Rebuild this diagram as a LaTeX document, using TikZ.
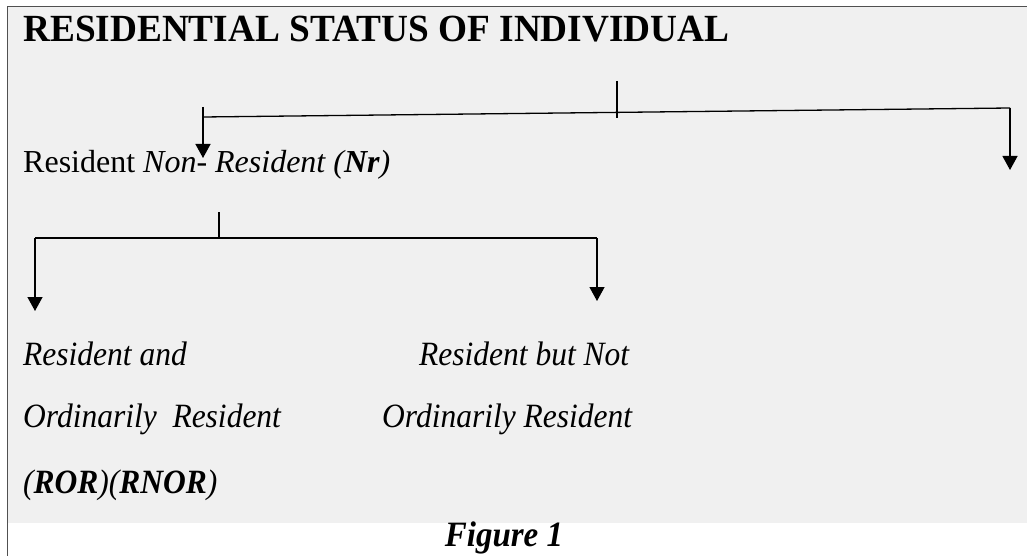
\documentclass[tikz,border=0pt]{standalone}
\usepackage{fontspec}
\usepackage{graphicx}
\setmainfont{Liberation Serif}
\usetikzlibrary{arrows.meta}
\definecolor{panel}{HTML}{F0F0F0}
\definecolor{frame}{HTML}{505050}
\newcommand{\tallit}[1]{\scalebox{1}[1.08]{#1}}
\begin{document}
\begin{tikzpicture}[x=1pt,y=-1pt,
  txt/.style={anchor=base west,inner sep=0pt,font=\fontsize{31.5}{37}\selectfont},
  leaf/.style={txt,font=\fontsize{31.5}{37}\selectfont\itshape},
  conn/.style={line width=1.3pt,black},
  arr/.style={conn,-{Triangle[length=14pt,width=15pt]}}]
\useasboundingbox (0,0) rectangle (1027,556);
\fill[white] (0,0) rectangle (1027,556);
\fill[panel] (8,7) rectangle (1027,523);
\draw[frame,line width=1.5pt] (1027,6.5) -- (7.5,6.5) -- (7.5,556);
% title
\node[anchor=base west,inner sep=0pt,font=\fontsize{37.3}{44}\selectfont\bfseries] (title) at (23,42) {\scalebox{1}[1.03]{RESIDENTIAL STATUS OF INDIVIDUAL}};
% first level text
\node[txt,font=\fontsize{32}{37}\selectfont] (lvl1) at (23,172) {Resident \textit{Non- Resident (\textbf{Nr})}};
% first tree
\coordinate (t1top) at (617,81);
\coordinate (t1mid) at (617,118);
\coordinate (l1) at (203,117);
\coordinate (l1top) at (203,107);
\coordinate (l1tip) at (203,158);
\coordinate (r1) at (1010,108);
\coordinate (r1tip) at (1010,170);
\draw[conn] (t1top) -- (t1mid);
\draw[conn] (l1) -- (r1);
\draw[arr] (l1top) -- (l1tip);
\draw[arr] (r1) -- (r1tip);
% second tree
\coordinate (t2top) at (219,212);
\coordinate (t2mid) at (219,238);
\coordinate (l2) at (35,238);
\coordinate (l2tip) at (35,311);
\coordinate (r2) at (597,238);
\coordinate (r2tip) at (597,301);
\draw[conn] (t2top) -- (t2mid);
\draw[conn] (l2) -- (r2);
\draw[arr] (l2) -- (l2tip);
\draw[arr] (r2) -- (r2tip);
% leaves
\node[leaf] (ror1) at (23,365) {\tallit{Resident and}};
\node[leaf] (ror2) at (23,427) {\tallit{Ordinarily\ \ Resident}};
\node[leaf] (ror3) at (23,493) {\tallit{(\textbf{ROR})(\textbf{RNOR})}};
\node[leaf] (rnor1) at (419,365) {\tallit{Resident but Not}};
\node[leaf] (rnor2) at (382,427) {\tallit{Ordinarily Resident}};
% caption
\node[anchor=base,inner sep=0pt,font=\fontsize{33}{37}\selectfont\bfseries\itshape] (cap) at (504,546) {\tallit{Figure 1}};
\end{tikzpicture}
\end{document}
